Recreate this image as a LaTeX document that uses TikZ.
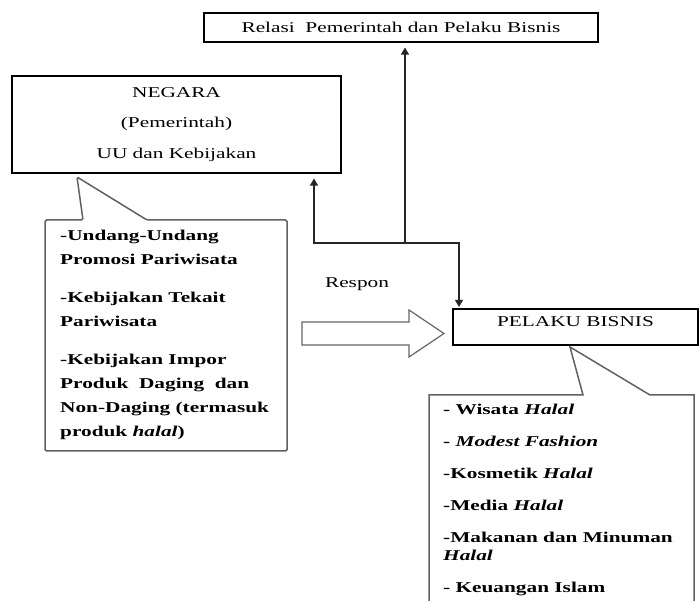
\documentclass[tikz,border=0pt]{standalone}
\usepackage{fontspec}
\setmainfont{Liberation Serif}[FakeStretch=1.42]
\usetikzlibrary{arrows.meta,calc}
\tikzset{
  box/.style={draw=black,line width=1.1pt,inner sep=0pt,align=center,font=\fontsize{15}{30.5}\selectfont},
  conn/.style={draw=black!85,line width=1.1pt,-{Triangle[width=8pt,length=7pt]}},
  callout/.style={draw=black!62,line width=1.5pt,fill=white,rounded corners=1.5pt},
  hollow/.style={draw=black!60,line width=1.2pt,fill=white,line join=miter},
  txt/.style={inner sep=0pt,align=left,font=\bfseries},
}
\begin{document}
\begin{tikzpicture}[x=1pt,y=-1pt]
\useasboundingbox[fill=white] (0,0) rectangle (699,601);

% boxes
\node[box,minimum width=394pt,minimum height=29pt] (rel) at (401,27.5)
  {Relasi\ \ Pemerintah dan Pelaku Bisnis};
\node[box,minimum width=329pt,minimum height=97pt] (neg) at (176.5,124.5)
  {NEGARA\\(Pemerintah)\\UU dan Kebijakan};
\node[box,minimum width=245pt,minimum height=36pt,text height=10pt,text depth=11pt] (pel) at (575.5,327)
  {PELAKU BISNIS};

% connectors
\coordinate (j) at (405,243);
\coordinate (jl) at (314,243);
\coordinate (jr) at (459,243);
\draw[conn,shorten >=5pt] (j) -- (j |- rel.south);
\draw[conn,shorten >=5pt] (j) -- (jl) -- (jl |- neg.south);
\draw[conn,shorten >=1.5pt] (j) -- (jr) -- (jr |- pel.north);

% hollow arrow
\draw[hollow] (302,322) -- (409,322) -- (409,310) -- (444,333.5) -- (409,357) -- (409,345) -- (302,345) -- cycle;
\node[inner sep=0pt,anchor=base,font=\fontsize{15}{18}\selectfont] (resp) at (357,288) {Respon};

% left callout
\draw[callout] (45,220) -- (83,220) -- (77,177) -- (147,220) -- (287,220) -- (287,451) -- (45,451) -- cycle;
\node[txt,anchor=north west,font=\bfseries\fontsize{15}{24}\selectfont] (lt) at (60,229.8)
  {-Undang-Undang\\
   Promosi Pariwisata\\[14pt]
   -Kebijakan Tekait\\
   Pariwisata\\[14pt]
   -Kebijakan Impor\\
   Produk\ \ Daging\ \ dan\\
   Non-Daging (termasuk\\
   produk \textit{halal})};

% right callout
\draw[callout,rounded corners=0pt] (429,601) -- (429,395) -- (583,395) -- (570,347) -- (650,395) -- (694,395) -- (694,601);
\node[txt,anchor=north west,font=\bfseries\fontsize{15}{18}\selectfont] (rt) at (443,404)
  {- Wisata \textit{Halal}\\[14pt]
   - \textit{Modest Fashion}\\[14pt]
   -Kosmetik \textit{Halal}\\[14pt]
   -Media \textit{Halal}\\[14pt]
   -Makanan dan Minuman\\
   \textit{Halal}\\[14pt]
   - Keuangan Islam};
\end{tikzpicture}
\end{document}
